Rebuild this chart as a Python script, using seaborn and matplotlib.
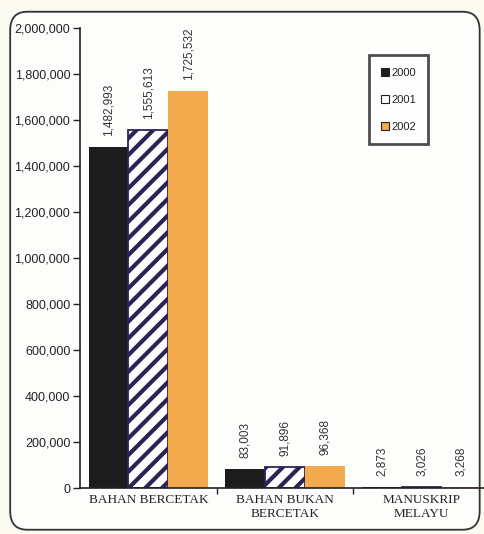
import matplotlib
matplotlib.use("Agg")
import matplotlib.pyplot as plt
import seaborn as sns
import pandas as pd
from matplotlib.patches import FancyBboxPatch, Patch
from matplotlib.ticker import FuncFormatter, FixedLocator

categories = ["BAHAN BERCETAK", "BAHAN BUKAN\nBERCETAK", "MANUSKRIP\nMELAYU"]
years = ["2000", "2001", "2002"]
v2000 = [1482993, 83003, 2873]
v2001 = [1555613, 91896, 3026]
v2002 = [1725532, 96368, 3268]
y_ticks = list(range(0, 2000001, 200000))

rows = []
for yr, vals in zip(years, [v2000, v2001, v2002]):
    for c, v in zip(categories, vals):
        rows.append({"cat": c, "year": yr, "value": v})
df = pd.DataFrame(rows)

sns.set_style("white")
plt.rcParams["hatch.linewidth"] = 3.0
plt.rcParams["font.family"] = ["Liberation Sans", "DejaVu Sans"]

fig = plt.figure(figsize=(4.85, 5.34), dpi=100)
fig.patch.set_facecolor("#fbfaf0")
panel = FancyBboxPatch((0.021, 0.008), 0.968, 0.97,
                       boxstyle="round,pad=0,rounding_size=0.035",
                       transform=fig.transFigure, facecolor="#fdfdfb",
                       edgecolor="#333333", linewidth=1.3, zorder=-5)
fig.patches.append(panel)

ax = fig.add_axes([0.165, 0.086, 0.845, 0.862])
ax.set_facecolor("none")
ax.set_zorder(1)

palette = {"2000": "#1c1c1c", "2001": "#ffffff", "2002": "#f2aa4c"}
sns.barplot(data=df, x="cat", y="value", hue="year", palette=palette,
            order=categories, hue_order=years, width=0.875, gap=0,
            saturation=1, errorbar=None, ax=ax, legend=False)

for i, cont in enumerate(ax.containers):
    for p in cont.patches:
        if i == 1:
            p.set_hatch("//")
            p.set_edgecolor("#2a2456")
            p.set_linewidth(1.3)
        else:
            p.set_edgecolor("none")
    ax.bar_label(cont, labels=[f"{v:,.0f}" for v in cont.datavalues],
                 rotation=90, padding=8, fontsize=8.5, color="#333333")

ax.set_ylim(0, 2000000)
ax.set_xlim(-0.5, 2.5)
ax.yaxis.set_major_locator(FixedLocator(y_ticks))
ax.yaxis.set_major_formatter(FuncFormatter(lambda v, p: f"{v:,.0f}"))
ax.tick_params(axis="y", labelsize=9, length=5, width=1, direction="out",
               left=True, colors="#222222", pad=2)
ax.set_xticks([0, 1, 2])
ax.set_xticklabels(categories, fontsize=9.5, family=["Liberation Serif"],
                   color="#222222", linespacing=1.3)
ax.tick_params(axis="x", length=0, pad=4)
ax.set_xticks([0.5, 1.5], minor=True)
ax.tick_params(axis="x", which="minor", length=4, width=1, direction="out",
               bottom=True)
ax.set_xlabel("")
ax.set_ylabel("")
for s in ["top", "right"]:
    ax.spines[s].set_visible(False)
for s in ["left", "bottom"]:
    ax.spines[s].set_color("#222222")
    ax.spines[s].set_linewidth(1.2)

handles = [Patch(facecolor=palette[y], edgecolor="#222222", linewidth=0.8)
           for y in years]
leg = ax.legend(handles, years, loc="upper left",
                bbox_to_anchor=(0.705, 0.94), fontsize=8, frameon=True,
                fancybox=False, handlelength=0.7, handleheight=0.7,
                handletextpad=0.2, labelspacing=1.55, borderpad=1.1,
                borderaxespad=0)
leg.get_frame().set_edgecolor("#222222")
leg.get_frame().set_linewidth(2.0)
leg.get_frame().set_facecolor("white")
for t in leg.get_texts():
    t.set_color("#222222")

fig.savefig("out.png", dpi=100, facecolor=fig.get_facecolor())
